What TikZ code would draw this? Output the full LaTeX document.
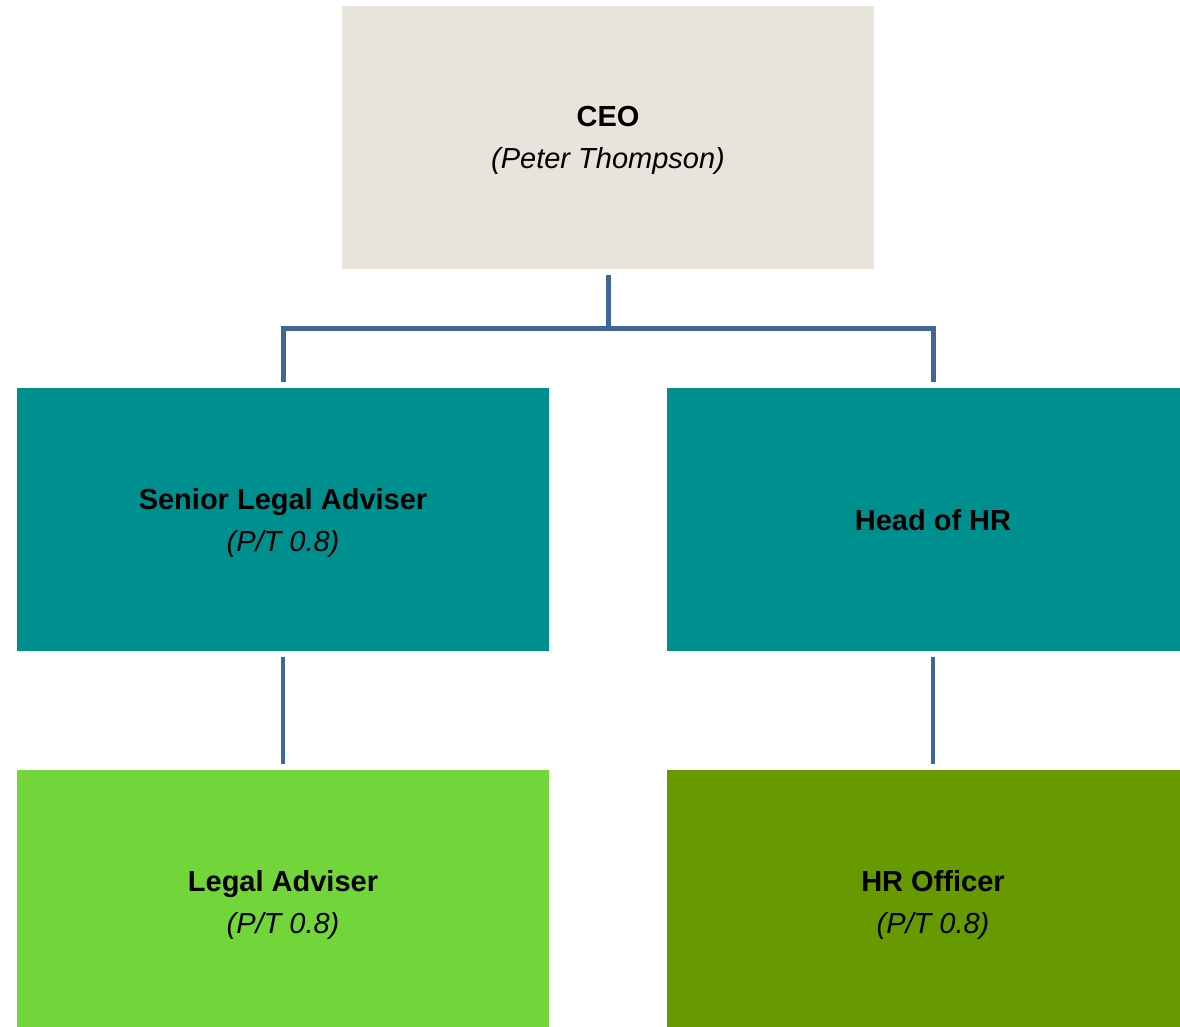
\documentclass[tikz,border=0pt]{standalone}
\usepackage{fontspec}
\setmainfont{Liberation Sans}
\definecolor{ceofill}{HTML}{E8E4DC}
\definecolor{tealfill}{HTML}{008F8F}
\definecolor{lightgreen}{HTML}{72D63A}
\definecolor{darkgreen}{HTML}{679A00}
\definecolor{linkcol}{HTML}{3F6699}
\begin{document}
\begin{tikzpicture}[x=1pt,y=-1pt,
  orgbox/.style={rectangle, inner sep=0pt, minimum width=532pt, minimum height=263pt,
    align=center, text=black, text depth=0pt, font=\fontsize{29}{42}\selectfont},
  topconn/.style={draw=linkcol, line width=5pt},
  lowconn/.style={draw=linkcol, line width=4pt, shorten <=6pt, shorten >=6pt}]
\clip (0,0) rectangle (1180,1026);
\useasboundingbox (0,0) rectangle (1180,1026);
\node[orgbox, fill=ceofill] (ceo) at (608,137.5) {\textbf{CEO}\\\textit{(Peter Thompson)}};
\node[orgbox, fill=tealfill] (sla) at (283,519.5) {\textbf{Senior Legal Adviser}\\\textit{(P/T 0.8)}};
\node[orgbox, fill=tealfill] (hr) at (933,519.5) {\textbf{Head of HR}};
\node[orgbox, fill=lightgreen] (la) at (283,901.5) {\textbf{Legal Adviser}\\\textit{(P/T 0.8)}};
\node[orgbox, fill=darkgreen] (hro) at (933,901.5) {\textbf{HR Officer}\\\textit{(P/T 0.8)}};
\coordinate (bus) at (608,328);
\draw[topconn, shorten <=6pt] (ceo.south) -- (bus);
\draw[topconn, shorten >=6pt] (bus) -| (sla.north);
\draw[topconn, shorten >=6pt] (bus) -| (hr.north);
\draw[lowconn] (sla.south) -- (la.north);
\draw[lowconn] (hr.south) -- (hro.north);
\end{tikzpicture}
\end{document}
